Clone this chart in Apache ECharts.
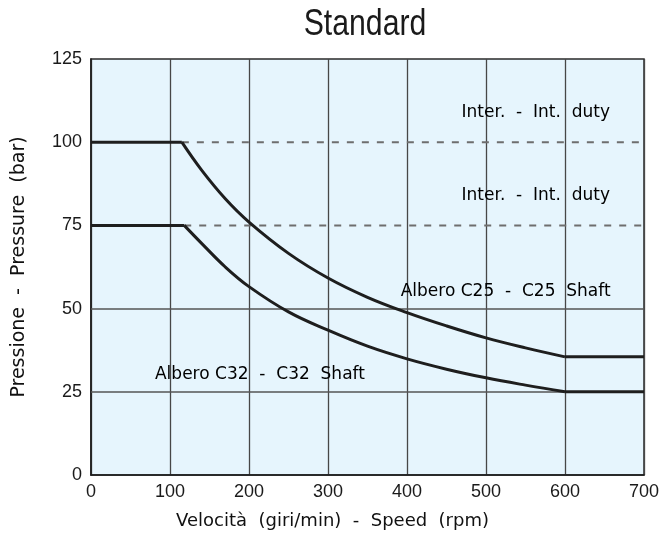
<!DOCTYPE html>
<html>
<head>
<meta charset="utf-8">
<script src="https://cdn.jsdelivr.net/npm/echarts@6/dist/echarts.min.js"></script>
<style>
html,body{margin:0;padding:0;background:#fff;}
#chart{width:665px;height:537px;}
</style>
</head>
<body>
<div id="chart"></div>
<script>
// ---- data ----
const titleText = 'Standard';
const xTicks = [0, 100, 200, 300, 400, 500, 600, 700];
const yTicks = [0, 25, 50, 75, 100, 125];

// Albero C25 - C25 Shaft (upper curve)
const c25Speed    = [0, 115, 140, 170, 200, 250, 300, 350, 400, 450, 500, 550, 600, 700];
const c25Pressure = [100, 100, 91.6, 83.0, 76.0, 66.6, 59.2, 53.4, 48.8, 44.8, 41.2, 38.2, 35.5, 35.5];

// Albero C32 - C32 Shaft (lower curve)
const c32Speed    = [0, 118, 140, 170, 200, 250, 300, 350, 400, 450, 500, 550, 600, 700];
const c32Pressure = [75, 75, 69.6, 62.5, 56.6, 49.0, 43.5, 38.7, 34.9, 31.8, 29.2, 27.0, 25.0, 25.0];

// intermittent-duty dashed limits
const dutyLevels = [100, 75];
const dutyStart  = [115, 118];

// plain grid lines
const solidLevels = [25, 50];

// text annotations (data coordinates)
const noteTexts = ['Inter.  -  Int.  duty', 'Inter.  -  Int.  duty', 'Albero C25  -  C25  Shaft', 'Albero C32  -  C32  Shaft'];
const noteX     = [563, 563, 392, 81];
const noteY     = [109, 84.1, 55, 30.3];
const noteAlign = ['center', 'center', 'left', 'left'];

// ---- build ----
const pairs = (xs, ys) => xs.map((x, i) => [x, ys[i]]);
const c25 = pairs(c25Speed, c25Pressure);
const c32 = pairs(c32Speed, c32Pressure);

const curveStyle = { color: '#1e1e1e', width: 3 };
function shaftSeries(pts) {
  const n = pts.length;
  return [
    { type: 'line', data: pts.slice(0, 2), symbol: 'none', lineStyle: curveStyle, z: 5 },
    { type: 'line', data: pts.slice(1, n - 1), symbol: 'none', smooth: 0.4, lineStyle: curveStyle, z: 5 },
    { type: 'line', data: pts.slice(n - 2), symbol: 'none', lineStyle: curveStyle, z: 5 }
  ];
}

const dashSeries = dutyLevels.map((lv, i) => ({
  type: 'line', data: [[dutyStart[i], lv], [700, lv]], symbol: 'none',
  lineStyle: { color: '#6e6e6e', width: 2, type: [7, 8] }, z: 3
}));

const gridLineSeries = {
  type: 'line', data: [], symbol: 'none',
  markLine: {
    silent: true, symbol: 'none', label: { show: false },
    lineStyle: { color: '#555', width: 1.5, type: 'solid' },
    data: solidLevels.map(v => ({ yAxis: v }))
  }, z: 2
};

const noteSeries = {
  type: 'scatter', symbolSize: 0, silent: true, z: 6,
  itemStyle: { opacity: 1 },
  data: noteTexts.map((t, i) => ({
    value: [noteX[i], noteY[i]],
    label: {
      show: true, formatter: t, position: 'inside', align: noteAlign[i], verticalAlign: 'middle',
      color: '#000', fontFamily: 'DejaVu Sans', fontSize: 17
    }
  }))
};

const chart = echarts.init(document.getElementById('chart'), null, { renderer: 'canvas' });
chart.setOption({
  animation: false,
  backgroundColor: '#ffffff',
  graphic: [{
    type: 'text', x: 365, y: 25, scaleX: 0.84, z: 10,
    style: {
      text: titleText, textAlign: 'center', textVerticalAlign: 'middle',
      font: '36px "Liberation Sans"', fill: '#1a1a1a'
    }
  }],
  grid: {
    left: 91, right: 21, top: 59, bottom: 62, show: true,
    backgroundColor: '#e6f5fd', borderColor: '#2a2a2a', borderWidth: 1.5
  },
  xAxis: {
    type: 'value', min: xTicks[0], max: xTicks[xTicks.length - 1], interval: 100,
    name: 'Velocità  (giri/min)  -  Speed  (rpm)', nameLocation: 'middle', nameGap: 37,
    nameTextStyle: { fontFamily: 'DejaVu Sans', fontSize: 18, color: '#111', padding: [0, 70, 0, 0] },
    axisLine: { lineStyle: { color: '#1a1a1a', width: 1.5 } },
    axisTick: { show: false },
    axisLabel: { margin: 8, fontFamily: 'Liberation Sans', fontSize: 18, color: '#1a1a1a' },
    splitLine: { show: true, lineStyle: { color: '#474747', width: 1.3 } }
  },
  yAxis: {
    type: 'value', min: yTicks[0], max: yTicks[yTicks.length - 1], interval: 25,
    name: 'Pressione  -  Pressure  (bar)', nameLocation: 'middle', nameGap: 62,
    nameTextStyle: { fontFamily: 'DejaVu Sans', fontSize: 19, color: '#111' },
    axisLine: { show: true, lineStyle: { color: '#1a1a1a', width: 1.5 } },
    axisTick: { show: false },
    axisLabel: { margin: 9, fontFamily: 'Liberation Sans', fontSize: 18, color: '#1a1a1a' },
    splitLine: { show: false }
  },
  series: [gridLineSeries, ...dashSeries, ...shaftSeries(c25), ...shaftSeries(c32), noteSeries]
});
</script>
</body>
</html>
